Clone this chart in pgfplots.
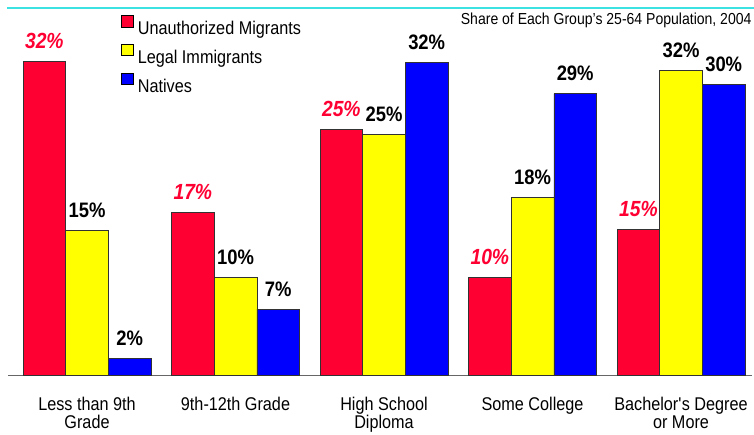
\documentclass[border=0pt]{standalone}
\usepackage{fontspec}
\setmainfont{Liberation Sans}[FakeStretch=0.88]
\usepackage{pgfplots}
\pgfplotsset{compat=1.18}
\definecolor{myred}{RGB}{255,0,51}
\definecolor{myyellow}{RGB}{255,255,0}
\definecolor{myblue}{RGB}{0,0,255}
\definecolor{edge}{RGB}{50,50,50}
\definecolor{topline}{RGB}{60,225,225}
\begin{document}
\begin{tikzpicture}
\useasboundingbox (-8bp,-60bp) rectangle (746bp,375bp);
\begin{axis}[
  scale only axis,
  width=744bp, height=367bp,
  xmin=-0.532, xmax=4.478, ymin=0, ymax=37.84,
  enlargelimits=false,
  ybar, bar width=0.2873,
  axis x line*=bottom, axis y line=none,
  x axis line style={draw=gray!80!black, line width=1bp},
  xtick={0,1,2,3,4},
  xticklabels={Less than 9th\\Grade, 9th-12th Grade, High School\\Diploma, Some College, Bachelor\textquotesingle s Degree\\or More},
  major tick length=0pt,
  xticklabel style={align=center, inner sep=0pt, anchor=north, yshift=-22bp,
    font=\fontsize{18.5}{18.5}\selectfont},
  nodes near coords,
  point meta=explicit symbolic,
  every node near coord/.append style={anchor=base, yshift=13bp, inner sep=0pt},
  legend style={at={(axis description cs:0.1515,0.9817)}, anchor=north west,
    draw=none, fill=none, inner sep=0pt, row sep=7.8bp, column sep=4.7bp,
    nodes={inner sep=0pt}, font=\fontsize{18.5}{18.5}\selectfont},
  legend cell align=left,
  legend image code/.code={\draw[#1,draw=black,line width=0.6bp] (0bp,1.7bp) rectangle (11.6bp,13.3bp);},
]
\addplot[fill=myred, draw=edge, line width=0.6bp, bar shift=-0.2873,
  every node near coord/.append style={text=myred, font=\fontsize{22}{22}\selectfont\bfseries\itshape}]
  coordinates {(0,32.3)[32\%] (1,16.8)[17\%] (2,25.3)[25\%] (3,10.1)[10\%] (4,15.0)[15\%]};
\addplot[fill=myyellow, draw=edge, line width=0.6bp, bar shift=0,
  every node near coord/.append style={text=black, font=\fontsize{21}{21}\selectfont\bfseries}]
  coordinates {(0,14.9)[15\%] (1,10.1)[10\%] (2,24.8)[25\%] (3,18.3)[18\%] (4,31.4)[32\%]};
\addplot[fill=myblue, draw=edge, line width=0.6bp, bar shift=0.2873,
  every node near coord/.append style={text=black, font=\fontsize{21}{21}\selectfont\bfseries}]
  coordinates {(0,1.7)[2\%] (1,6.8)[7\%] (2,32.2)[32\%] (3,29.0)[29\%] (4,30.0)[30\%]};
\legend{Unauthorized Migrants, Legal Immigrants, Natives}
\end{axis}
\draw[topline, line width=1.5bp] (-1bp,367bp) -- (746bp,367bp);
\node[anchor=base east, inner sep=0pt, font=\fontsize{16}{16}\selectfont] at (743.7bp,350.7bp) {Share of Each Group’s 25-64 Population, 2004};
\end{tikzpicture}
\end{document}
